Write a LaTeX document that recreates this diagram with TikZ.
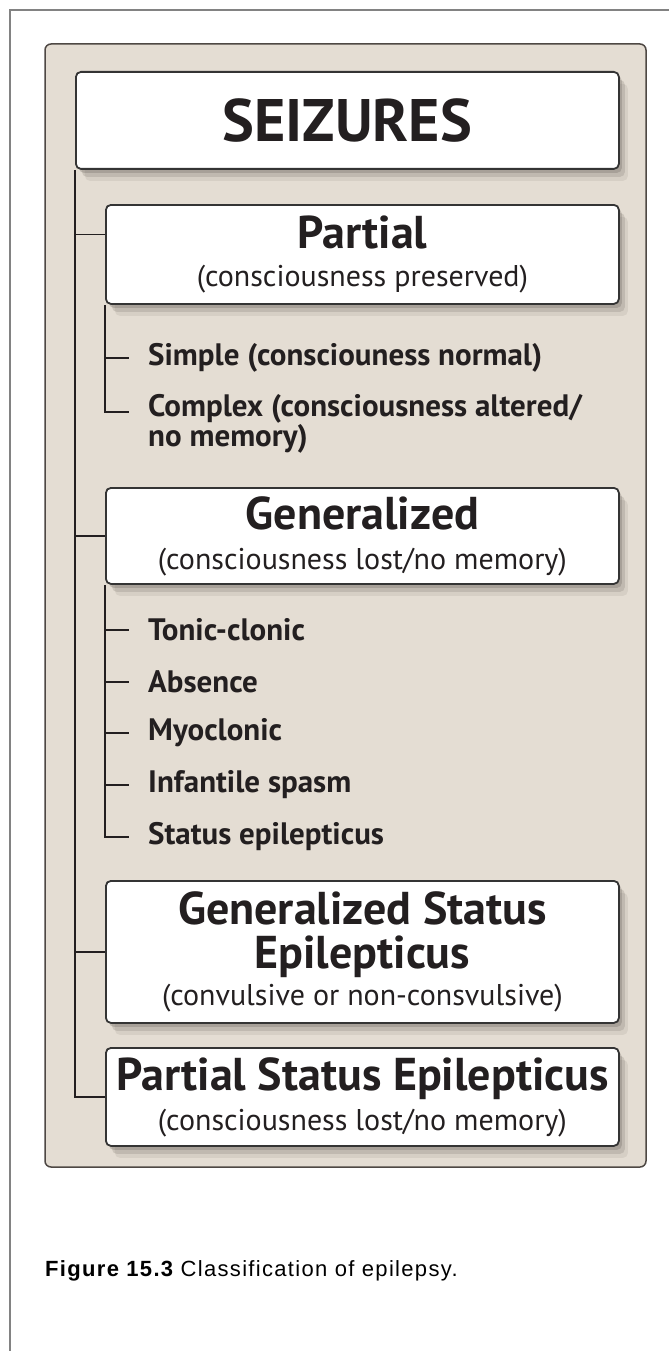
\documentclass[tikz,border=0pt]{standalone}
\usepackage{fontspec}
\setmainfont{PT Sans}
\newfontfamily\capfont[LetterSpace=6]{Liberation Sans}
\usepackage{xcolor}
\usetikzlibrary{positioning, shadows, calc}

% Colours
\definecolor{panelfill}{RGB}{228,221,211}
\definecolor{paneledge}{RGB}{78,72,68}
\definecolor{boxedge}{RGB}{52,52,52}
\definecolor{inkdark}{RGB}{35,31,32}
\definecolor{framegray}{RGB}{130,130,130}
\definecolor{shadowgray}{RGB}{95,88,82}

% Fonts
\newcommand\seizfont{\fontsize{60}{60}\selectfont\bfseries}
\newcommand\headfont{\fontsize{46}{36}\selectfont\bfseries}
\newcommand\subfont{\fontsize{30}{36}\selectfont}
\newcommand\itemfont{\fontsize{31}{30}\selectfont\bfseries}

\tikzset{
  catbox/.style={draw=boxedge, line width=1.8pt, fill=white, rounded corners=5pt,
    align=center, text=inkdark, inner sep=0pt, anchor=north west, font=\subfont,
    drop shadow={shadow xshift=3pt, shadow yshift=-4pt, opacity=0.25, fill=shadowgray},
    drop shadow={shadow xshift=6pt, shadow yshift=-8pt, opacity=0.18, fill=shadowgray},
    drop shadow={shadow xshift=9pt, shadow yshift=-12pt, opacity=0.10, fill=shadowgray}},
  subbox/.style={catbox, minimum width=513pt},
  item/.style={anchor=west, inner xsep=7pt, inner ysep=0pt, text=inkdark,
    font=\itemfont, align=left},
  tree/.style={draw=inkdark, line width=1.6pt},
}

\begin{document}
\begin{tikzpicture}[x=1pt, y=-1pt]
\useasboundingbox (0,0) rectangle (669,1351);
\fill[white] (0,0) rectangle (669,1351);

% Page frame and panel
\draw[framegray, line width=2pt] (10,1351) -- (10,10) -- (669,10);
\draw[paneledge, fill=panelfill, line width=1.5pt, rounded corners=6pt]
  (45,44) rectangle (646,1167);

% Category boxes
\node[catbox, minimum width=543pt, minimum height=97pt] (seizures) at (75,71)
  {\seizfont SEIZURES};
\node[subbox, minimum height=99pt] (partial) at (105,204)
  {{\headfont Partial}\\[2pt]{\subfont (consciousness preserved)}};
\node[subbox, minimum height=96pt] (general) at (105,487)
  {{\headfont Generalized}\\[4pt]{\subfont (consciousness lost/no memory)}};
\node[subbox, minimum height=142pt] (gse) at (105,880)
  {{\headfont Generalized Status}\\[8pt]{\headfont Epilepticus}\\[1pt]{\subfont (convulsive or non-consvulsive)}};
\node[subbox, minimum height=98pt] (pse) at (105,1047)
  {{\headfont Partial Status Epilepticus}\\[4pt]{\subfont (consciousness lost/no memory)}};

% Partial sub-types
\node[item] (simple) at (141,358) {Simple (consciouness normal)};
\node[item, anchor=north west] (complex) at (141,394)
  {Complex (consciousness altered/\\no memory)};

% Generalized sub-types
\node[item] (tonic) at (141,630) {Tonic-clonic};
\node[item] (absence) at (141,682) {Absence};
\node[item] (myoclonic) at (141,733) {Myoclonic};
\node[item] (infantile) at (141,785) {Infantile spasm};
\node[item] (statusep) at (141,837) {Status epilepticus};

% Tick points
\coordinate (partialtick) at ([yshift=20pt]partial.west);
\coordinate (complextick) at ([yshift=-18pt]complex.north west);

% Main tree
\draw[tree] (seizures.south west) |- (pse.west);
\draw[tree] (seizures.south west |- partialtick) -- (partialtick);
\draw[tree] (seizures.south west |- general.west) -- (general.west);
\draw[tree] (seizures.south west |- gse.west) -- (gse.west);

% Partial branch
\draw[tree] (partial.south west) |- ([xshift=-12pt]complextick);
\draw[tree] (partial.south west |- simple.west) -- ([xshift=-12pt]simple.west);

% Generalized branch
\draw[tree] (general.south west) |- ([xshift=-12pt]statusep.west);
\foreach \n in {tonic, absence, myoclonic, infantile}
  \draw[tree] (general.south west |- \n.west) -- ([xshift=-12pt]\n.west);

% Caption
\node[anchor=base west, inner sep=0pt, font=\capfont\fontsize{22}{24}\selectfont] (caption)
  at (45,1276) {{\bfseries Figure 15.3} Classification of epilepsy.};

\end{tikzpicture}
\end{document}
